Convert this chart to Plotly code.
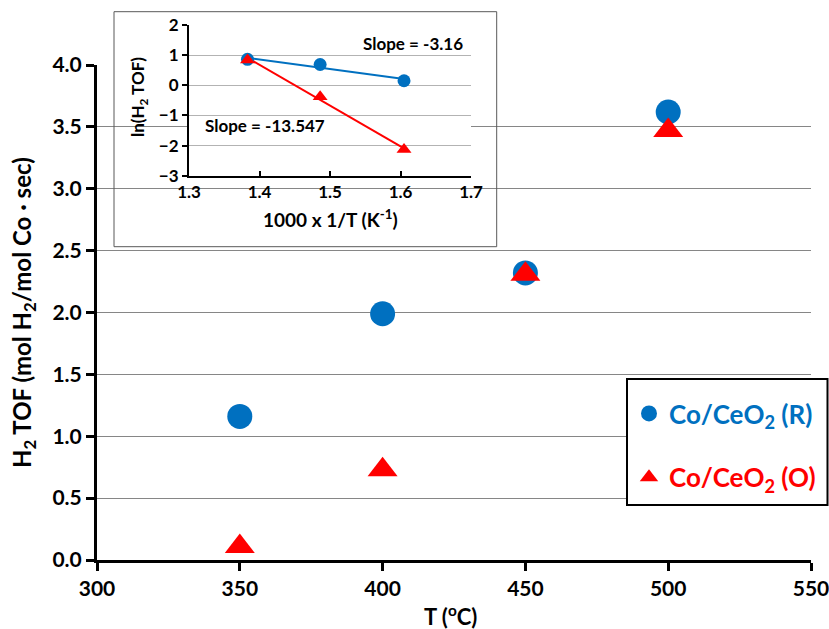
import numpy as np
import plotly.graph_objects as go

# ---- data -------------------------------------------------------------
temp_C = [350, 400, 450, 500]
tof_R = [1.16, 1.99, 2.32, 3.62]      # Co/CeO2 (R)
tof_O = [0.11, 0.73, 2.31, 3.47]      # Co/CeO2 (O)

# Arrhenius inset: 1000/T (K^-1) vs ln(H2 TOF) at 450, 400, 350 C
inv_T = [1.383, 1.486, 1.605]
ln_tof_R = [0.86, 0.69, 0.15]
ln_tof_O = [0.84, -0.38, -2.13]
slope_R = -3.16
slope_O = -13.547

x_ticks = [300, 350, 400, 450, 500, 550]
y_ticks = [0.0, 0.5, 1.0, 1.5, 2.0, 2.5, 3.0, 3.5, 4.0]
inset_x_ticks = [1.3, 1.4, 1.5, 1.6, 1.7]
inset_y_ticks = [-3, -2, -1, 0, 1, 2]

BLUE = "#0070C0"
RED = "#FF0000"
FONT = "Lato"

W, H = 829, 629


def fx(px):
    return px / W


def fy(py):
    return 1 - py / H


def trend(xs, ys, slope):
    xs = np.asarray(xs, float)
    ys = np.asarray(ys, float)
    b = ys.mean() - slope * xs.mean()
    xl = np.array([xs.min(), xs.max()])
    return xl, slope * xl + b


fig = go.Figure()

# main scatter
fig.add_trace(go.Scatter(
    x=temp_C, y=tof_R, mode="markers", xaxis="x", yaxis="y",
    name=f'<span style="color:{BLUE}">Co/CeO<sub>2</sub> (R)</span>',
    legendgroup="R",
    marker=dict(symbol="circle", size=25, color=BLUE),
))
fig.add_trace(go.Scatter(
    x=temp_C, y=tof_O, mode="markers", xaxis="x", yaxis="y",
    name=f'<span style="color:{RED}">Co/CeO<sub>2</sub> (O)</span>',
    legendgroup="O",
    marker=dict(symbol="triangle-up", size=26, color=RED),
))

# inset: trend lines then points
for ys, slope, col in [(ln_tof_R, slope_R, BLUE), (ln_tof_O, slope_O, RED)]:
    xl, yl = trend(inv_T, ys, slope)
    fig.add_trace(go.Scatter(
        x=xl, y=yl, mode="lines", xaxis="x3", yaxis="y3",
        line=dict(color=col, width=2), showlegend=False, hoverinfo="skip",
    ))
fig.add_trace(go.Scatter(
    x=inv_T, y=ln_tof_R, mode="markers", xaxis="x3", yaxis="y3",
    marker=dict(symbol="circle", size=13, color=BLUE), showlegend=False,
))
fig.add_trace(go.Scatter(
    x=inv_T, y=ln_tof_O, mode="markers", xaxis="x3", yaxis="y3",
    marker=dict(symbol="triangle-up", size=13, color=RED), showlegend=False,
))

tick_font = dict(family=FONT, size=21, color="black", weight=700)
inset_tick_font = dict(family=FONT, size=17, color="black", weight=700)

fig.update_layout(
    width=W, height=H,
    margin=dict(l=0, r=0, t=0, b=0, autoexpand=False),
    paper_bgcolor="white", plot_bgcolor="white",
    showlegend=True,
    legend=dict(
        x=fx(629), y=fy(390), xanchor="left", yanchor="top",
        borderwidth=0, bgcolor="rgba(0,0,0,0)",
        font=dict(family=FONT, size=26, weight=700),
        traceorder="grouped", tracegroupgap=27,
    ),
    xaxis=dict(
        domain=[fx(97), fx(811)], anchor="y",
        range=[300, 550], tickvals=x_ticks,
        showline=True, linewidth=3, linecolor="black",
        ticks="outside", ticklen=8, tickwidth=3, tickcolor="black",
        showgrid=False, zeroline=False, tickfont=tick_font,
        ticklabeloverflow="allow",
    ),
    yaxis=dict(
        domain=[fy(560), fy(65)], anchor="x",
        range=[0, 4], tickvals=y_ticks, tickformat=".1f",
        showline=True, linewidth=3, linecolor="black",
        ticks="outside", ticklen=8, tickwidth=3, tickcolor="black",
        showgrid=True, gridcolor="#868686", gridwidth=1,
        zeroline=False, tickfont=tick_font,
    ),
    # white panel behind the inset
    xaxis2=dict(domain=[fx(114), fx(496.7)], anchor="y2", range=[0, 1],
                visible=False, showgrid=False, zeroline=False),
    yaxis2=dict(domain=[fy(246.7), fy(11.7)], anchor="x2", range=[0, 1],
                visible=False, showgrid=False, zeroline=False),
    # inset axes
    xaxis3=dict(
        domain=[fx(189), fx(471)], anchor="y3",
        range=[1.3, 1.7], tickvals=inset_x_ticks, tickformat=".1f",
        showline=True, linewidth=2, linecolor="black",
        ticks="inside", ticklen=5, tickwidth=2, tickcolor="black",
        showgrid=False, zeroline=False, tickfont=inset_tick_font,
    ),
    yaxis3=dict(
        domain=[fy(175.7), fy(25)], anchor="x3",
        range=[-3, 2], tickvals=inset_y_ticks,
        showline=True, linewidth=2, linecolor="black",
        ticks="outside", ticklen=5, tickwidth=2, tickcolor="black",
        showgrid=True, gridcolor="#b3b3b3", gridwidth=1,
        zeroline=False, tickfont=inset_tick_font,
    ),
    shapes=[
        # inset frame
        dict(type="rect", xref="paper", yref="paper",
             x0=fx(114), x1=fx(496.7), y0=fy(246.7), y1=fy(11.7),
             line=dict(color="#595959", width=1), layer="above"),
        # legend frame
        dict(type="rect", xref="paper", yref="paper",
             x0=fx(627), x1=fx(827.5), y0=fy(505), y1=fy(379),
             line=dict(color="black", width=2), fillcolor="white",
             layer="above"),
    ],
)

title_font = dict(family=FONT, size=24, color="black", weight=700)
inset_title_font = dict(family=FONT, size=19, color="black", weight=700)
ln_title_font = dict(family=FONT, size=17, color="black", weight=700)
note_font = dict(family=FONT, size=17, color="black", weight=700)


def label(text, x, y, font, angle=0, xref="paper", yref="paper"):
    return dict(text=text, x=x, y=y, xref=xref, yref=yref, textangle=angle,
                xanchor="center", yanchor="middle", showarrow=False, font=font)


annotations = [
    label("T (<sup>o</sup>C)", fx(451), fy(615), dict(title_font, size=22)),
    label("H<sub>2</sub> TOF (mol H<sub>2</sub>/mol Co \u00b7 sec)",
          fx(23), fy(313), title_font, angle=-90),
    label("1000 x 1/T (K<sup>-1</sup>)", fx(330), fy(219), inset_title_font),
    label("ln(H<sub>2</sub> TOF)", fx(139), fy(97), ln_title_font, angle=-90),
    label(f"Slope = {slope_R}", 1.618, 1.40, note_font, xref="x3", yref="y3"),
    label(f"Slope = {slope_O}", 1.408, -1.32, note_font, xref="x3", yref="y3"),
]
fig.update_layout(annotations=annotations)

fig.write_html("out.html")
